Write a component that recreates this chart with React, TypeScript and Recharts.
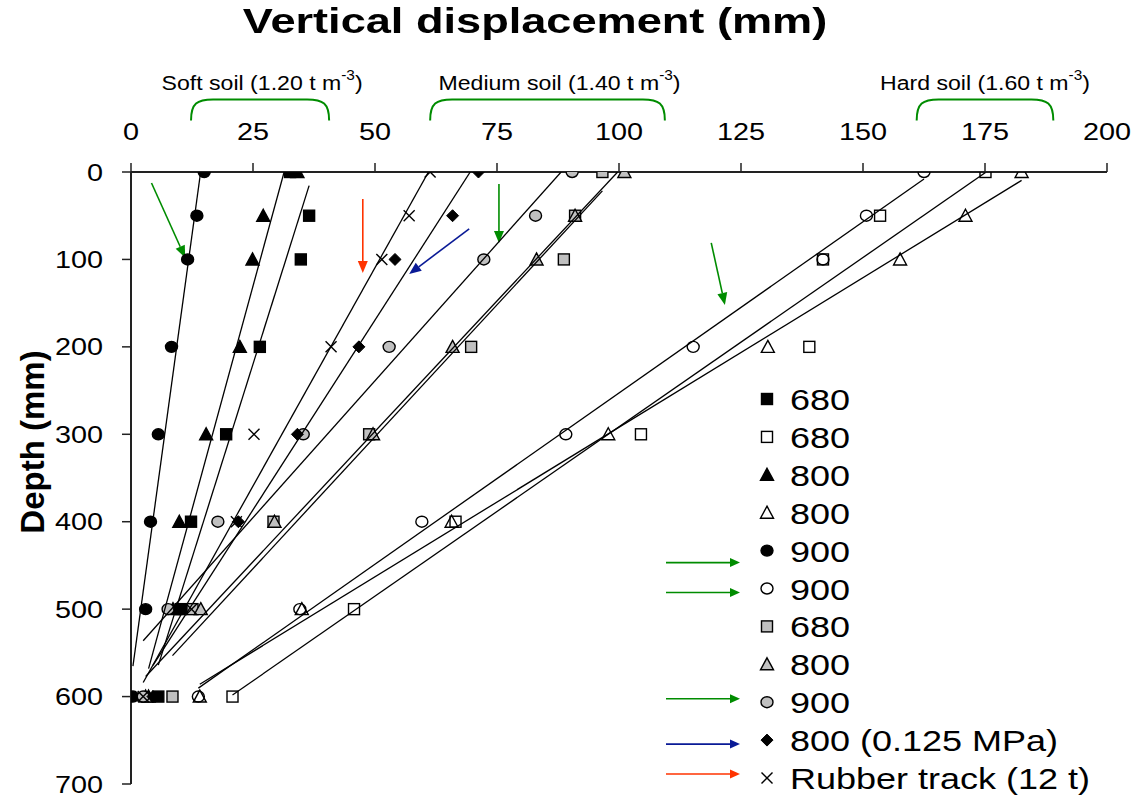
import React from 'react';
import {
  ScatterChart, Scatter, XAxis, YAxis, ReferenceLine, Legend,
} from 'recharts';

// depth of each reading (mm)
const depths = [0, 50, 100, 200, 300, 400, 500, 600];

// vertical displacement (mm) at each depth
const blackSq680 = [32.6, 36.5, 34.8, 26.4, 19.5, 12.3, 10.2, 5.6];
const openSq680 = [175.1, 153.5, 141.8, 139.0, 104.5, 66.5, 45.7, 20.8];
const blackTri800 = [34.1, 27.1, 24.9, 22.3, 15.4, 9.9, 8.6, 3.6];
const openTri800 = [182.5, 171.0, 157.6, 130.5, 97.8, 65.7, 35.0, 14.1];
const blackCirc900 = [15.0, 13.5, 11.6, 8.3, 5.6, 4.0, 3.0, 0.4];
const openCirc900 = [162.5, 150.7, 141.8, 115.2, 89.1, 59.6, 34.6, 13.8];
const graySq680 = [96.6, 91.0, 88.7, 69.7, 48.8, 29.2, 12.6, 8.5];
const grayTri800 = [101.1, 91.0, 83.1, 65.9, 49.6, 29.4, 14.3, 3.0];
const grayCirc900 = [90.4, 82.9, 72.3, 52.9, 35.3, 17.8, 7.6, 2.5];
const diamond800 = [71.2, 65.9, 54.1, 46.7, 34.1, 22.0, 9.9, 4.5];
const rubberTrack = [61.3, 57.0, 51.4, 41.0, 25.2, 21.6, 12.4, 2.5];

const xTicks = [0, 25, 50, 75, 100, 125, 150, 175, 200];
const yTicks = [0, 100, 200, 300, 400, 500, 600, 700];

type Marker = 'sq' | 'tri' | 'circ' | 'diam' | 'cross';

// arrow: colour of the pointer drawn left of the legend entry, dy: its offset from the row
const series: { name: string; values: number[]; marker: Marker; fill: string; arrow?: string; dy?: number }[] = [
  { name: '680', values: blackSq680, marker: 'sq', fill: '#000' },
  { name: '680', values: openSq680, marker: 'sq', fill: 'none' },
  { name: '800', values: blackTri800, marker: 'tri', fill: '#000' },
  { name: '800', values: openTri800, marker: 'tri', fill: 'none' },
  { name: '900', values: blackCirc900, marker: 'circ', fill: '#000', arrow: '#008c00', dy: 12 },
  { name: '900', values: openCirc900, marker: 'circ', fill: 'none', arrow: '#008c00', dy: 4 },
  { name: '680', values: graySq680, marker: 'sq', fill: '#c0c0c0' },
  { name: '800', values: grayTri800, marker: 'tri', fill: '#c0c0c0' },
  { name: '900', values: grayCirc900, marker: 'circ', fill: '#c0c0c0', arrow: '#008c00', dy: -3.5 },
  { name: '800 (0.125 MPa)', values: diamond800, marker: 'diam', fill: '#000', arrow: '#0a1a96', dy: 4 },
  { name: 'Rubber track (12 t)', values: rubberTrack, marker: 'cross', fill: '#000', arrow: '#ff3300', dy: -4 },
];

// annotation arrows inside the plot [x1, depth1, x2, depth2, colour]
const plotArrows: [number, number, number, number, string][] = [
  [4.2, 12.6, 11.1, 98, '#008c00'],
  [47.5, 31, 47.5, 115.6, '#ff3300'],
  [69.3, 65, 57.0, 116.7, '#0a1a96'],
  [75.4, 13.7, 75.4, 81.2, '#008c00'],
  [118.9, 81, 121.7, 152, '#008c00'],
];

// soil-density brackets above the axis [from, to, label, density, label shift px]
const soilBraces: [number, number, string, string, number][] = [
  [12.3, 40.6, 'Soft soil', '1.20', 2],
  [61.3, 109.4, 'Medium soil', '1.40', 12],
  [161, 189, 'Hard soil', '1.60', 0],
];

const SX = 1.2;
const FONT = 'Liberation Sans, Arial, sans-serif';

const SText = ({ x, y, size, anchor = 'start', weight = 'normal', sx = SX, children }: any) => (
  <text
    transform={`translate(${x},${y}) scale(${sx},1)`}
    textAnchor={anchor}
    fontSize={size}
    fontWeight={weight}
    fontFamily={FONT}
    fill="#000"
  >
    {children}
  </text>
);

const MarkerShape = ({ cx, cy, marker, fill, s = 11 }: any) => {
  const h = s / 2;
  const stroke = '#000';
  const sw = 1.4;
  if (marker === 'sq') return <rect x={cx - h} y={cy - h} width={s} height={s} fill={fill} stroke={stroke} strokeWidth={sw} />;
  if (marker === 'tri')
    return <polygon points={`${cx},${cy - h - 1} ${cx + h + 1},${cy + h} ${cx - h - 1},${cy + h}`} fill={fill} stroke={stroke} strokeWidth={sw} strokeLinejoin="miter" />;
  if (marker === 'circ') return <ellipse cx={cx} cy={cy} rx={h + 0.5} ry={h} fill={fill} stroke={stroke} strokeWidth={sw} />;
  if (marker === 'diam')
    return <polygon points={`${cx},${cy - h - 0.5} ${cx + h + 0.5},${cy} ${cx},${cy + h + 0.5} ${cx - h - 0.5},${cy}`} fill={fill} stroke={stroke} strokeWidth={1} />;
  return (
    <g stroke={stroke} strokeWidth={1.4}>
      <line x1={cx - h} y1={cy - h} x2={cx + h} y2={cy + h} />
      <line x1={cx - h} y1={cy + h} x2={cx + h} y2={cy - h} />
    </g>
  );
};

// least-squares trendline (depth on displacement), drawn across the data's x range
function trend(values: number[]) {
  const n = values.length;
  const mx = values.reduce((a, b) => a + b, 0) / n;
  const my = depths.reduce((a, b) => a + b, 0) / n;
  let sxy = 0;
  let sxx = 0;
  values.forEach((x, i) => {
    sxy += (x - mx) * (depths[i] - my);
    sxx += (x - mx) * (x - mx);
  });
  const m = sxy / sxx;
  const b = my - m * mx;
  return [Math.min(...values), Math.max(...values)].map((x) => {
    let y = m * x + b;
    let xx = x;
    if (y < 0) { y = 0; xx = -b / m; }
    if (y > 700) { y = 700; xx = (700 - b) / m; }
    return { x: xx, y };
  });
}

const Arrow = ({ x1, y1, x2, y2, stroke, hl = 12, hw = 5 }: any) => {
  const dx = x2 - x1;
  const dy = y2 - y1;
  const len = Math.sqrt(dx * dx + dy * dy);
  const ux = dx / len;
  const uy = dy / len;
  const bx = x2 - ux * hl;
  const by = y2 - uy * hl;
  return (
    <g>
      <line x1={x1} y1={y1} x2={bx} y2={by} stroke={stroke} strokeWidth={1.6} />
      <polygon points={`${x2},${y2} ${bx - uy * hw},${by + ux * hw} ${bx + uy * hw},${by - ux * hw}`} fill={stroke} />
    </g>
  );
};

const Brace = ({ x1, x2, y1, label, density, shift }: any) => {
  const top = y1;
  const bot = y1 + 21;
  const r = 22;
  return (
    <g>
      <path
        d={`M${x1},${bot} C${x1},${top + 4} ${x1 + 6},${top} ${x1 + r},${top} L${x2 - r},${top} C${x2 - 6},${top} ${x2},${top + 4} ${x2},${bot}`}
        fill="none"
        stroke="#008c00"
        strokeWidth={2}
      />
      <text
        transform={`translate(${(x1 + x2) / 2 + shift},${top - 9}) scale(1.1,1)`}
        textAnchor="middle"
        fontSize={21}
        fontFamily={FONT}
      >
        {`${label} (${density} t m`}
        <tspan fontSize={14} dy={-10}>-3</tspan>
        <tspan dy={10}>)</tspan>
      </text>
    </g>
  );
};

const XTick = ({ x, y, payload }: any) => (
  <SText x={x} y={y} size={24} anchor="middle">{payload.value}</SText>
);

const YTick = ({ x, y, payload }: any) => (
  <SText x={x} y={y + 8.5} size={24} anchor="end">{payload.value}</SText>
);

const LegendBox = () => {
  const rowY = (i: number) => 12 + i * 37.9;
  return (
    <svg width={460} height={410} style={{ overflow: 'visible' }}>
      {series.map((s, i) => (
        <g key={i}>
          <MarkerShape cx={101} cy={rowY(i)} marker={s.marker} fill={s.fill} s={11} />
          <SText x={124} y={rowY(i) + 11} size={30}>{s.name}</SText>
          {s.arrow ? (
            <Arrow x1={0} y1={rowY(i) + (s.dy || 0)} x2={74} y2={rowY(i) + (s.dy || 0)} stroke={s.arrow} hl={10} hw={4.5} />
          ) : null}
        </g>
      ))}
    </svg>
  );
};

export default function App() {
  return (
    <div style={{ position: 'fixed', left: 8, top: 0, width: 1124, height: 797, fontFamily: FONT, background: '#fff' }}>
      <ScatterChart width={1124} height={797} margin={{ top: 0, right: 25, bottom: 13, left: 0 }}>
        <XAxis
          type="number"
          dataKey="x"
          orientation="top"
          domain={[0, 200]}
          ticks={xTicks}
          height={172}
          tickSize={9}
          tickMargin={23}
          tick={<XTick />}
          axisLine={{ stroke: '#222', strokeWidth: 2 }}
          tickLine={{ stroke: '#222', strokeWidth: 1.5 }}
          allowDataOverflow
        />
        <YAxis
          type="number"
          dataKey="y"
          reversed
          domain={[0, 700]}
          ticks={yTicks}
          width={123}
          tickSize={9}
          tickMargin={19}
          tick={<YTick />}
          axisLine={{ stroke: '#222', strokeWidth: 2 }}
          tickLine={{ stroke: '#222', strokeWidth: 1.5 }}
          allowDataOverflow
        />
        {series.map((s, i) => (
          <Scatter
            key={`pts-${i}`}
            name={s.name}
            data={s.values.map((v, j) => ({ x: v, y: depths[j] }))}
            isAnimationActive={false}
            shape={(p: any) => <MarkerShape cx={p.cx} cy={p.cy} marker={s.marker} fill={s.fill} />}
          />
        ))}
        {series.map((s, i) => (
          <Scatter
            key={`fit-${i}`}
            data={trend(s.values)}
            isAnimationActive={false}
            line={{ stroke: '#000', strokeWidth: 1.3 }}
            shape={() => <g />}
          />
        ))}
        {plotArrows.map((a, i) => (
          <ReferenceLine
            key={`arr-${i}`}
            segment={[{ x: a[0], y: a[1] }, { x: a[2], y: a[3] }]}
            ifOverflow="visible"
            shape={(p: any) => <Arrow x1={p.x1} y1={p.y1} x2={p.x2} y2={p.y2} stroke={a[4]} />}
          />
        ))}
        {soilBraces.map((b, i) => (
          <ReferenceLine
            key={`brace-${i}`}
            segment={[{ x: b[0], y: -83 }, { x: b[1], y: -83 }]}
            ifOverflow="visible"
            shape={(p: any) => <Brace x1={p.x1} x2={p.x2} y1={p.y1} label={b[2]} density={b[3]} shift={b[4]} />}
          />
        ))}
        <Legend
          layout="vertical"
          align="center"
          verticalAlign="middle"
          wrapperStyle={{ left: 658, top: 387, width: 460, height: 405 }}
          content={() => <LegendBox />}
        />
      </ScatterChart>
      <svg width={1124} height={797} style={{ position: 'absolute', left: 0, top: 0, pointerEvents: 'none', overflow: 'visible' }}>
        <SText x={527} y={33} size={35} sx={1.29} anchor="middle" weight="bold">Vertical displacement (mm)</SText>
        <text
          transform="translate(36,442) rotate(-90)"
          textAnchor="middle"
          fontSize={33}
          fontWeight="bold"
          fontFamily={FONT}
        >
          Depth (mm)
        </text>
      </svg>
    </div>
  );
}
